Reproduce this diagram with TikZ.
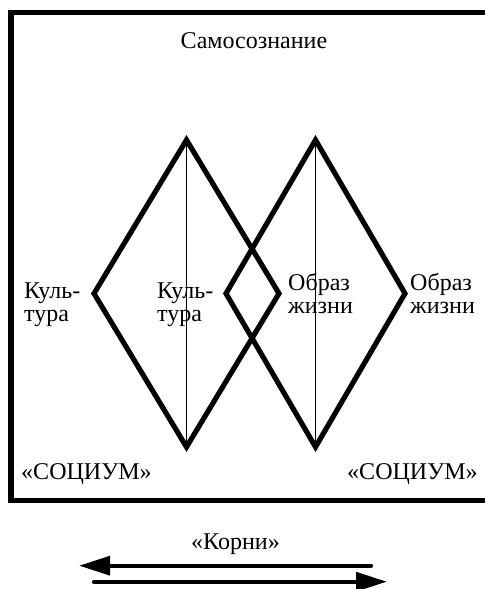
\documentclass[tikz,border=0pt]{standalone}
\usepackage{fontspec}
\setmainfont{Liberation Serif}
\usetikzlibrary{arrows.meta, positioning}
\tikzset{
  frame/.style={line width=4.8pt},
  rhomb/.style={line width=4.4pt, line join=miter},
  axisline/.style={line width=1.5pt},
  txt/.style={inner sep=0pt, font=\fontsize{20.5}{19.6}\selectfont},
  twoline/.style={txt, align=left, anchor=west},
  roots/.style={line width=3.6pt, line cap=round, -{Triangle[length=0.93cm, width=0.56cm]}}
}
\begin{document}
\begin{tikzpicture}
  \useasboundingbox (0,0) rectangle (14.52,17.67);

  % Frame (open to the right)
  \draw[frame] (0.33,2.655) rectangle (16,17.295);

  % Diamond corners
  \coordinate (k-top) at (5.595,13.47);
  \coordinate (k-bot) at (5.595,4.26);
  \coordinate (k-left) at (2.82,8.865);
  \coordinate (k-right) at (8.37,8.865);
  \coordinate (o-top) at (9.465,13.47);
  \coordinate (o-bot) at (9.465,4.26);
  \coordinate (o-left) at (6.78,8.865);
  \coordinate (o-right) at (12.15,8.865);

  % Axes of the diamonds
  \draw[axisline] (k-top) -- (k-bot);
  \draw[axisline] (o-top) -- (o-bot);

  % Diamonds
  \draw[rhomb] (k-top) -- (k-right) -- (k-bot) -- (k-left) -- cycle;
  \draw[rhomb] (o-top) -- (o-right) -- (o-bot) -- (o-left) -- cycle;

  % Labels
  \node[txt, anchor=base] (self) at (7.62,16.2) {Самосознание};
  \node[twoline] (cult1) at (0.72,8.52) {Куль-\\тура};
  \node[twoline] (cult2) at (4.71,8.52) {Куль-\\тура};
  \node[twoline] (life1) at (8.64,8.87) {Образ\\жизни};
  \node[twoline] (life2) at (12.3,8.87) {Образ\\жизни};
  \node[txt, anchor=base west] (soc1) at (0.63,3.27) {«СОЦИУМ»};
  \node[txt, anchor=base west] (soc2) at (10.41,3.27) {«СОЦИУМ»};
  \node[txt, anchor=base] (roots) at (7.065,1.17) {«Корни»};

  % Arrows
  \coordinate (back-tail) at (11.13,0.699);
  \coordinate (back-tip) at (2.37,0.699);
  \coordinate (fwd-tail) at (2.82,0.219);
  \coordinate (fwd-tip) at (11.61,0.219);
  \draw[roots] (back-tail) -- (back-tip);
  \draw[roots] (fwd-tail) -- (fwd-tip);
\end{tikzpicture}
\end{document}
